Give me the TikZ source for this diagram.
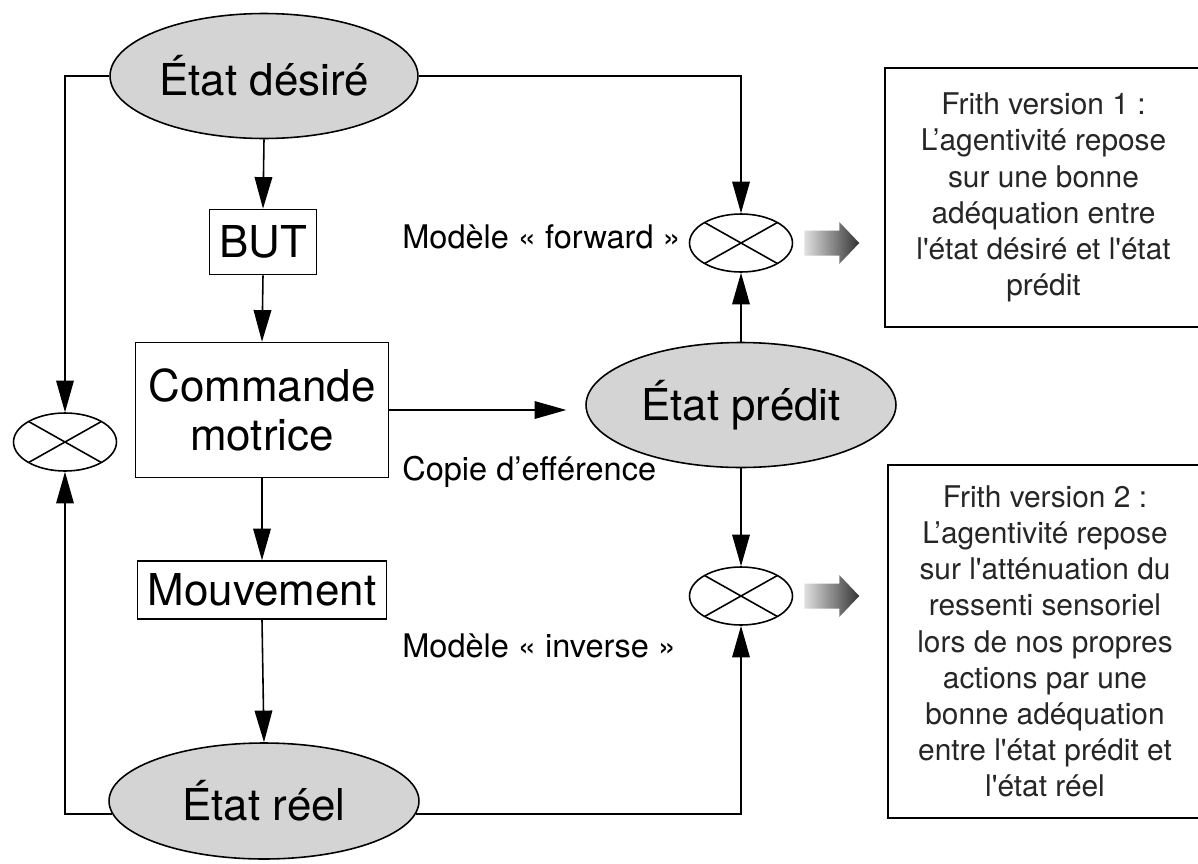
\documentclass[tikz,border=0pt]{standalone}
\usepackage{fontspec}
\setmainfont{TeX Gyre Heros}
\usetikzlibrary{arrows.meta,calc,shapes.geometric}
\newcommand{\fondgris}{black!17}
\newcommand{\trait}{0.9pt}
\newcommand{\grand}{\fontsize{25}{27.5}\selectfont}
\newcommand{\moyen}{\fontsize{18.5}{21}\selectfont}
\newcommand{\petit}{\fontsize{17}{20.6}\selectfont}
\newcommand{\sortie}[1]{%
\shade[left color=black!12, right color=black!80]
($(#1.east)+(0.22cm,0.25cm)$) -- ++(0.7cm,0) -- ++(0,0.17cm) -- ++(0.4cm,-0.42cm)
-- ++(-0.4cm,-0.42cm) -- ++(0,0.17cm) -- ++(-0.7cm,0) -- cycle;}
\tikzset{
etat/.style={ellipse, draw, fill=\fondgris, line width=\trait, font=\grand, inner sep=0pt},
boite/.style={rectangle, draw, line width=\trait, font=\grand, inner sep=0pt, align=center},
comparateur/.style={ellipse, draw, line width=\trait, minimum width=2.06cm, minimum height=1.16cm,
path picture={\draw[line width=\trait] (path picture bounding box.north west) -- (path picture bounding box.south east)
(path picture bounding box.north east) -- (path picture bounding box.south west);}},
fleche/.style={-{Triangle[length=18pt,width=10pt]}, line width=\trait},
legende/.style={font=\moyen, anchor=base west, inner sep=0pt},
cadre/.style={rectangle, draw, line width=1pt, font=\petit, align=center, inner sep=0pt, text=black!85}
}
\begin{document}
\begin{tikzpicture}[x=0.02cm, y=-0.02cm]
\useasboundingbox (0,0) rectangle (1198,863);
% colonne de gauche
\node[etat, minimum width=6.16cm, minimum height=2.5cm] (desire) at (264,76) {État désiré};
\node[boite, minimum width=2.14cm, minimum height=1.3cm] (but) at (263,242) {BUT};
\node[boite, minimum width=5.06cm, minimum height=2.7cm] (commande) at (262,410) {Commande\\motrice};
\node[boite, minimum width=4.98cm, minimum height=1.16cm] (mouvement) at (262,590) {Mouvement};
\node[etat, minimum width=6.2cm, minimum height=2.32cm] (reel) at (264,801) {État réel};
\node[comparateur] (xorL) at (65,442) {};
% colonne du milieu
\node[etat, minimum width=6.2cm, minimum height=2.5cm] (predit) at (741,405) {État prédit};
\node[comparateur] (xorF) at (741,243) {};
\node[comparateur] (xorI) at (741,596) {};
\node[legende] (forward) at (402,248) {Modèle « forward »};
\node[legende] (copie) at (402,480) {Copie d’efférence};
\node[legende] (inverse) at (402,657) {Modèle « inverse »};
% cadres de droite
\node[cadre, minimum width=6.34cm, minimum height=5.18cm] (frith1) at (1043.5,197.5)
{Frith version 1 :\\ L’agentivité repose\\ sur une bonne\\ adéquation entre\\
l\textquotesingle état désiré et l\textquotesingle état\\ prédit};
\node[cadre, minimum width=6.28cm, minimum height=7.06cm] (frith2) at (1045,641.5)
{Frith version 2 :\\ L’agentivité repose\\ sur l\textquotesingle atténuation du\\ ressenti sensoriel\\
lors de nos propres\\ actions par une\\ bonne adéquation\\ entre l\textquotesingle état prédit et\\
l\textquotesingle état réel};
% liaisons
\draw[fleche] (desire.south) -- (but.north);
\draw[fleche] (but.south) -- (commande.north);
\draw[fleche] (commande.south) -- (mouvement.north);
\draw[fleche] (mouvement.south) -- (reel.north);
\draw[fleche] (desire.west) -| (xorL.north);
\draw[fleche] (reel.185) -| (xorL.south);
\draw[fleche] (desire.east) -| (xorF.north);
\draw[fleche] (predit.north) -- (xorF.south);
\draw[fleche] (predit.south) -- (xorI.north);
\draw[fleche] (reel.355) -| (xorI.south);
\draw[fleche, shorten >=0.38cm] (commande.east) -- (commande.east -| predit.west);
% fleches degradees
\sortie{xorF}
\sortie{xorI}
\end{tikzpicture}
\end{document}
